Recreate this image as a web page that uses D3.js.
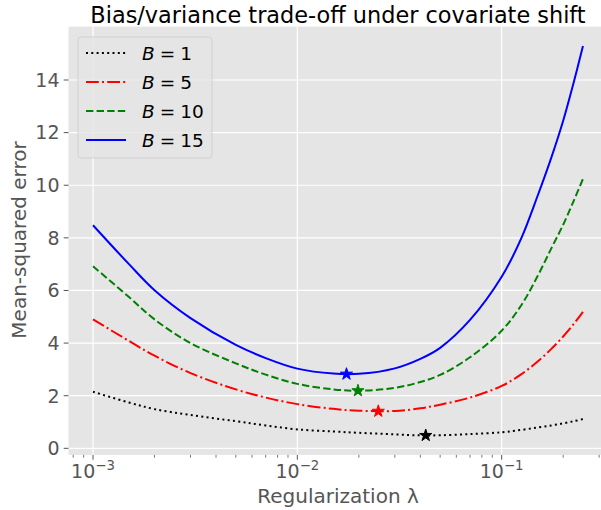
<!DOCTYPE html>
<html>
<head>
<meta charset="utf-8">
<script src="https://cdn.jsdelivr.net/npm/d3@7"></script>
<style>
  html, body { margin: 0; padding: 0; background: #ffffff; }
  svg { display: block; font-family: "DejaVu Sans", sans-serif; }
</style>
</head>
<body>
<svg id="chart" width="601" height="510"></svg>
<script>
// ---- data ----
const lambdas = [0.001, 0.0015, 0.002, 0.003, 0.005, 0.007, 0.01, 0.015, 0.02, 0.03, 0.04, 0.05,
                 0.07, 0.1, 0.125, 0.15, 0.175, 0.2, 0.225, 0.25];
const seriesNames = ["B = 1", "B = 5", "B = 10", "B = 15"];
const mseB1  = [2.15, 1.74, 1.49, 1.27, 1.03, 0.87, 0.72, 0.64, 0.59, 0.53, 0.492, 0.497,
                0.54, 0.61, 0.70, 0.79, 0.87, 0.95, 1.03, 1.11];
const mseB5  = [4.90, 4.08, 3.52, 2.86, 2.24, 1.93, 1.68, 1.50, 1.43, 1.42, 1.52, 1.66,
                1.93, 2.37, 2.82, 3.30, 3.78, 4.25, 4.72, 5.19];
const mseB10 = [6.92, 5.75, 4.90, 4.00, 3.23, 2.80, 2.45, 2.24, 2.19, 2.30, 2.52, 2.79,
                3.46, 4.47, 5.45, 6.55, 7.60, 8.50, 9.40, 10.24];
const mseB15 = [8.48, 7.00, 6.01, 4.95, 3.93, 3.43, 3.03, 2.84, 2.83, 3.04, 3.40, 3.82,
                4.88, 6.52, 8.00, 9.60, 11.05, 12.45, 13.90, 15.29];
const bestLambda = [0.0425, 0.0249, 0.0198, 0.0174];
const bestMse    = [0.49, 1.41, 2.19, 2.82];
const yTicks = [0, 2, 4, 6, 8, 10, 12, 14];
const xTickExp = [-3, -2, -1];

const titleText = "Bias/variance trade-off under covariate shift";
const xLabelText = "Regularization \u03bb";
const yLabelText = "Mean-squared error";

// ---- styles ----
const colors = ["#000000", "#ff0000", "#008000", "#0000ff"];
const lw = 2.0;
const dashes = [
  `${lw} ${lw*1.65}`,
  `${lw*6.4} ${lw*1.6} ${lw} ${lw*1.6}`,
  `${lw*3.7} ${lw*1.6}`,
  null
];
const allSeries = [mseB1, mseB5, mseB10, mseB15];

const svg = d3.select("#chart");
const plot = { left: 68.5, right: 607.5, top: 26.6, bottom: 454.9 };

const x = d3.scaleLog()
  .domain([Math.pow(10, -3.12), Math.pow(10, -0.482)])
  .range([plot.left, plot.right]);
const y = d3.scaleLinear()
  .domain([-0.25, 16.03])
  .range([plot.bottom, plot.top]);

// clip
svg.append("defs").append("clipPath").attr("id", "clip")
  .append("rect")
  .attr("x", plot.left).attr("y", plot.top)
  .attr("width", plot.right - plot.left).attr("height", plot.bottom - plot.top);

// background
svg.append("rect")
  .attr("x", plot.left).attr("y", plot.top)
  .attr("width", plot.right - plot.left).attr("height", plot.bottom - plot.top)
  .attr("fill", "#e5e5e5");

// grid
const grid = svg.append("g").attr("clip-path", "url(#clip)");
xTickExp.forEach(e => {
  const v = Math.pow(10, e);
  grid.append("line")
    .attr("x1", x(v)).attr("x2", x(v))
    .attr("y1", plot.top).attr("y2", plot.bottom)
    .attr("stroke", "#ffffff").attr("stroke-width", 1.2);
});
yTicks.forEach(t => {
  grid.append("line")
    .attr("x1", plot.left).attr("x2", plot.right)
    .attr("y1", y(t)).attr("y2", y(t))
    .attr("stroke", "#ffffff").attr("stroke-width", 1.2);
});

// x axis (ticks)
const xAxisG = svg.append("g").attr("transform", `translate(0,${plot.bottom})`);
const minorTicks = [];
for (let e = -4; e <= 0; e++) {
  for (let m = 2; m <= 9; m++) {
    const v = m * Math.pow(10, e);
    if (v >= x.domain()[0] && v <= x.domain()[1]) minorTicks.push(v);
  }
}
xAxisG.selectAll("line.minor").data(minorTicks).enter().append("line")
  .attr("class", "minor")
  .attr("x1", d => x(d)).attr("x2", d => x(d))
  .attr("y1", 0).attr("y2", 2.8)
  .attr("stroke", "#555555").attr("stroke-width", 0.8);
xAxisG.selectAll("line.major").data(xTickExp).enter().append("line")
  .attr("class", "major")
  .attr("x1", d => x(Math.pow(10, d))).attr("x2", d => x(Math.pow(10, d)))
  .attr("y1", 0).attr("y2", 4.8)
  .attr("stroke", "#555555").attr("stroke-width", 1);
const xl = xAxisG.selectAll("text.xt").data(xTickExp).enter().append("text")
  .attr("class", "xt")
  .attr("x", d => x(Math.pow(10, d)))
  .attr("y", 23.5)
  .attr("text-anchor", "middle")
  .attr("fill", "#555555")
  .attr("font-size", 19);
xl.append("tspan").text("10");
xl.append("tspan").attr("dy", -8.5).attr("font-size", 13.3).text(d => "\u2212" + Math.abs(d));

// y axis
const yAxisG = svg.append("g");
yAxisG.selectAll("line").data(yTicks).enter().append("line")
  .attr("x1", plot.left - 4.8).attr("x2", plot.left)
  .attr("y1", d => y(d)).attr("y2", d => y(d))
  .attr("stroke", "#555555").attr("stroke-width", 1);
yAxisG.selectAll("text").data(yTicks).enter().append("text")
  .attr("x", plot.left - 9)
  .attr("y", d => y(d))
  .attr("dy", "0.36em")
  .attr("text-anchor", "end")
  .attr("fill", "#555555")
  .attr("font-size", 19)
  .text(d => d);

// labels
svg.append("text")
  .attr("x", (plot.left + plot.right) / 2).attr("y", 503)
  .attr("text-anchor", "middle").attr("fill", "#555555")
  .attr("font-size", 20).text(xLabelText);
svg.append("text")
  .attr("transform", `translate(26,240) rotate(-90)`)
  .attr("text-anchor", "middle").attr("fill", "#555555")
  .attr("font-size", 20).text(yLabelText);
svg.append("text")
  .attr("x", (plot.left + plot.right) / 2).attr("y", 23)
  .attr("text-anchor", "middle").attr("fill", "#000000")
  .attr("font-size", 22.4).text(titleText);

// lines
const lineGen = d3.line()
  .x((d, i) => x(lambdas[i]))
  .y(d => y(d))
  .curve(d3.curveCatmullRom.alpha(0.5));
const linesG = svg.append("g").attr("clip-path", "url(#clip)");
allSeries.forEach((s, k) => {
  const p = linesG.append("path")
    .attr("d", lineGen(s))
    .attr("fill", "none")
    .attr("stroke", colors[k])
    .attr("stroke-width", lw);
  if (dashes[k]) p.attr("stroke-dasharray", dashes[k]);
});

// stars
const star = d3.symbol().type(d3.symbolStar).size(46);
bestLambda.forEach((l, k) => {
  linesG.append("path")
    .attr("d", star())
    .attr("transform", `translate(${x(l)},${y(bestMse[k])})`)
    .attr("fill", colors[k])
    .attr("stroke", colors[k])
    .attr("stroke-width", 1);
});

// legend
const leg = svg.append("g");
leg.append("rect")
  .attr("x", 78).attr("y", 37).attr("width", 134).attr("height", 121)
  .attr("rx", 3).attr("ry", 3)
  .attr("fill", "#e5e5e5").attr("fill-opacity", 0.8)
  .attr("stroke", "#cccccc").attr("stroke-opacity", 0.8).attr("stroke-width", 1);
const rowY = [53, 82, 111, 140];
seriesNames.forEach((name, k) => {
  const ln = leg.append("line")
    .attr("x1", 86).attr("x2", 126)
    .attr("y1", rowY[k]).attr("y2", rowY[k])
    .attr("stroke", colors[k]).attr("stroke-width", lw);
  if (dashes[k]) ln.attr("stroke-dasharray", dashes[k]);
  const parts = name.split(" = ");
  const t = leg.append("text")
    .attr("x", 142).attr("y", rowY[k]).attr("dy", "0.36em")
    .attr("font-size", 18.5).attr("fill", "#000000");
  t.append("tspan").attr("font-style", "italic").text(parts[0]);
  t.append("tspan").attr("dx", 5).text("=");
  t.append("tspan").attr("dx", 5).text(parts[1]);
});
</script>
</body>
</html>
